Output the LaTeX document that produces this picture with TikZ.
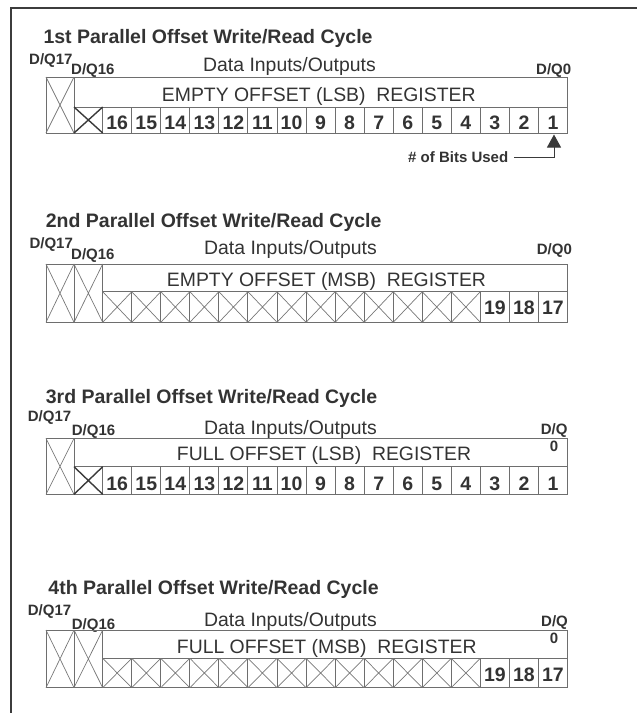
\documentclass[tikz,border=0pt]{standalone}
\usepackage{fontspec}
\setmainfont{Liberation Sans}
\usetikzlibrary{arrows.meta}
\definecolor{txt}{HTML}{333333}
\definecolor{framec}{HTML}{3C3C3C}
\definecolor{boxc}{HTML}{6E6E6E}
\definecolor{xc}{HTML}{777777}
\definecolor{xdark}{HTML}{3A3A3A}
\newcommand\mylsbreg[3]{%
  \draw[box] (46,#1) rectangle (567.5,#3);
  \draw[box] (74,#1) -- (74,#3);
  \draw[box] (74,#2) -- (567.5,#2);
  \foreach \k in {0,...,15} \draw[box] ({102.7+\k*29.05},#2) -- ({102.7+\k*29.05},#3);
  \draw[xthin] (46,#1) -- (74,#3) (74,#1) -- (46,#3);
  \draw[xbold] (74,#2) -- (102.7,#3) (102.7,#2) -- (74,#3);
}
\newcommand\mymsbreg[3]{%
  \draw[box] (46,#1) rectangle (567.5,#3);
  \draw[box] (74,#1) -- (74,#3);
  \draw[box] (102.7,#1) -- (102.7,#3);
  \draw[box] (102.7,#2) -- (567.5,#2);
  \foreach \k in {1,...,15} \draw[box] ({102.7+\k*29.05},#2) -- ({102.7+\k*29.05},#3);
  \draw[xthin] (46,#1) -- (74,#3) (74,#1) -- (46,#3);
  \draw[xthin] (74,#1) -- (102.7,#3) (102.7,#1) -- (74,#3);
  \foreach \k in {0,...,12} \draw[xthin] ({102.7+\k*29.05},#2) -- ({102.7+(\k+1)*29.05},#3) ({102.7+(\k+1)*29.05},#2) -- ({102.7+\k*29.05},#3);
}
\begin{document}
\begin{tikzpicture}[x=1pt,y=-1pt,
  framel/.style={line width=2pt, draw=framec},
  box/.style={line width=1pt, draw=boxc},
  xthin/.style={line width=0.7pt, draw=xc},
  xbold/.style={line width=1.4pt, draw=xdark},
  titletext/.style={font=\fontsize{19.5}{22}\selectfont\bfseries, text=txt, anchor=base west, inner sep=0pt},
  pintext/.style={font=\fontsize{15}{17}\selectfont\bfseries, text=txt, anchor=base west, inner sep=0pt},
  labtext/.style={font=\fontsize{19.4}{22}\selectfont, text=txt, anchor=base west, inner sep=0pt},
  numtext/.style={font=\fontsize{19.5}{22}\selectfont\bfseries, text=txt, anchor=base, inner sep=0pt},
  conn/.style={line width=1pt, draw=xdark, -{Triangle[width=14pt,length=13pt]}}]
\useasboundingbox (0,0) rectangle (637,713);
\draw[framel] (11,713) -- (11,8) -- (637,8);

% ---------- 1st ----------
\node[titletext] (t1) at (43.3,43.3) {1st Parallel Offset Write/Read Cycle};
\node[pintext] (a17) at (29,64) {D/Q17};
\node[pintext] (a16) at (71,74) {D/Q16};
\node[labtext] (aio) at (203,71) {Data Inputs/Outputs};
\node[pintext] (a0) at (536,74) {D/Q0};
\mylsbreg{77}{107}{133}
\node[labtext] (areg) at (161.7,101.7) {EMPTY OFFSET (LSB)\ \ REGISTER};
\foreach \k in {0,...,15}{\pgfmathtruncatemacro\n{16-\k}
  \node[numtext] (an\n) at ({102.7+(\k+0.5)*29.05},129.3) {\n};}
\node[pintext, inner xsep=6pt] (bits) at (402,162.7) {\# of Bits Used};
\coordinate (tip) at (554,134.5);
\draw[conn] (bits.east) -| (tip);

% ---------- 2nd ----------
\node[titletext] (t2) at (45.7,227) {2nd Parallel Offset Write/Read Cycle};
\node[pintext] (b17) at (29.3,248) {D/Q17};
\node[pintext] (b16) at (71,259.3) {D/Q16};
\node[labtext] (bio) at (204,254) {Data Inputs/Outputs};
\node[pintext] (b0) at (536.7,254.3) {D/Q0};
\mymsbreg{264}{291.7}{322.3}
\node[labtext] (breg) at (166.7,286) {EMPTY OFFSET (MSB)\ \ REGISTER};
\foreach \k/\n in {13/19,14/18,15/17}
  \node[numtext] (bn\n) at ({102.7+(\k+0.5)*29.05},314.3) {\n};

% ---------- 3rd ----------
\node[titletext] (t3) at (45.7,403) {3rd Parallel Offset Write/Read Cycle};
\node[pintext] (c17) at (27.7,421.7) {D/Q17};
\node[pintext] (c16) at (71.7,435) {D/Q16};
\node[labtext] (cio) at (204,434) {Data Inputs/Outputs};
\node[pintext] (c0) at (540.7,434.3) {D/Q};
\node[pintext, anchor=base] (c0b) at (554,451.7) {0};
\mylsbreg{438.3}{466.7}{494.3}
\node[labtext] (creg) at (176.7,460) {FULL OFFSET (LSB)\ \ REGISTER};
\foreach \k in {0,...,15}{\pgfmathtruncatemacro\n{16-\k}
  \node[numtext] (cn\n) at ({102.7+(\k+0.5)*29.05},490) {\n};}

% ---------- 4th ----------
\node[titletext] (t4) at (48.3,594) {4th Parallel Offset Write/Read Cycle};
\node[pintext] (d17) at (27.7,615) {D/Q17};
\node[pintext] (d16) at (71.7,629) {D/Q16};
\node[labtext] (dio) at (204,626.7) {Data Inputs/Outputs};
\node[pintext] (d0) at (541,626) {D/Q};
\node[pintext, anchor=base] (d0b) at (554,643.3) {0};
\mymsbreg{630}{658.3}{687.7}
\node[labtext] (dreg) at (176.7,653.3) {FULL OFFSET (MSB)\ \ REGISTER};
\foreach \k/\n in {13/19,14/18,15/17}
  \node[numtext] (dn\n) at ({102.7+(\k+0.5)*29.05},681.7) {\n};
\end{tikzpicture}
\end{document}
